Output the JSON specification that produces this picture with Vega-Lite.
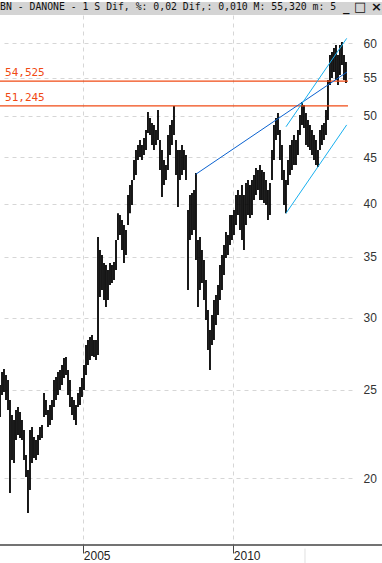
{
  "$schema": "https://vega.github.io/schema/vega-lite/v6.json",
  "width": 352,
  "height": 530,
  "autosize": {"type": "none"},
  "padding": {"left": 0, "top": 15, "right": 30, "bottom": 18},
  "background": "white",
  "title": {"text": "BN - DANONE -  1 S Dif, %: 0,02 Dif,: 0,010 M: 55,320 m: 5", "anchor": "start", "frame": "group", "font": "DejaVu Sans Mono", "fontSize": 9.8, "fontWeight": "normal", "color": "#111", "offset": 0, "dy": 11},
  "config": {"view": {"stroke": null}},
  "datasets": {
    "bars": [
      {"t":2002.223,"hi":25.32,"lo":23.35},{"t":2002.290,"hi":26.16,"lo":24.68},{"t":2002.356,"hi":26.36,"lo":24.87},{"t":2002.423,"hi":25.96,"lo":24.37},{"t":2002.490,"hi":25.64,"lo":23.77},{"t":2002.556,"hi":24.37,"lo":19.27},{"t":2002.623,"hi":23.47,"lo":20.95},{"t":2002.690,"hi":23.17,"lo":20.79},{"t":2002.756,"hi":23.77,"lo":22.03},{"t":2002.823,"hi":23.95,"lo":22.31},{"t":2002.890,"hi":23.65,"lo":22.14},{"t":2002.956,"hi":23.17,"lo":22.03},{"t":2003.023,"hi":22.60,"lo":20.95},{"t":2003.090,"hi":21.21,"lo":20.07},{"t":2003.156,"hi":20.42,"lo":18.32},
      {"t":2003.223,"hi":22.60,"lo":19.42},{"t":2003.290,"hi":22.77,"lo":20.79},{"t":2003.356,"hi":22.20,"lo":21.05},{"t":2003.423,"hi":22.03,"lo":20.95},{"t":2003.490,"hi":22.31,"lo":21.21},{"t":2003.556,"hi":22.77,"lo":22.03},{"t":2003.623,"hi":22.88,"lo":22.14},{"t":2003.690,"hi":24.81,"lo":23.35},{"t":2003.756,"hi":24.37,"lo":23.47},{"t":2003.823,"hi":23.77,"lo":22.77},{"t":2003.890,"hi":24.07,"lo":22.88},{"t":2003.956,"hi":24.37,"lo":23.17},{"t":2004.023,"hi":25.64,"lo":23.95},{"t":2004.090,"hi":25.83,"lo":24.37},{"t":2004.156,"hi":26.16,"lo":24.68},
      {"t":2004.223,"hi":26.29,"lo":25.00},{"t":2004.290,"hi":26.63,"lo":25.32},{"t":2004.356,"hi":27.10,"lo":25.77},{"t":2004.423,"hi":27.17,"lo":25.96},{"t":2004.490,"hi":26.29,"lo":24.68},{"t":2004.556,"hi":25.64,"lo":23.95},{"t":2004.623,"hi":24.56,"lo":23.47},{"t":2004.690,"hi":24.37,"lo":23.17},{"t":2004.756,"hi":24.07,"lo":22.88},{"t":2004.823,"hi":24.81,"lo":23.95},{"t":2004.890,"hi":25.19,"lo":24.07},{"t":2004.956,"hi":25.77,"lo":24.56},{"t":2005.023,"hi":26.63,"lo":25.00},{"t":2005.090,"hi":28.01,"lo":25.96},{"t":2005.156,"hi":28.36,"lo":26.63},
      {"t":2005.223,"hi":28.58,"lo":26.96},{"t":2005.290,"hi":28.72,"lo":27.24},{"t":2005.356,"hi":28.36,"lo":27.17},{"t":2005.423,"hi":28.36,"lo":26.96},{"t":2005.490,"hi":36.78,"lo":27.31},{"t":2005.556,"hi":35.60,"lo":31.61},{"t":2005.623,"hi":35.15,"lo":32.18},{"t":2005.690,"hi":34.45,"lo":31.38},{"t":2005.756,"hi":34.28,"lo":30.83},{"t":2005.823,"hi":33.85,"lo":31.38},{"t":2005.890,"hi":34.45,"lo":32.59},{"t":2005.956,"hi":34.28,"lo":32.75},{"t":2006.023,"hi":34.54,"lo":33.00},{"t":2006.090,"hi":36.51,"lo":33.85},{"t":2006.156,"hi":39.07,"lo":36.51},
      {"t":2006.223,"hi":38.89,"lo":36.97},{"t":2006.290,"hi":38.40,"lo":35.60},{"t":2006.356,"hi":37.92,"lo":34.45},{"t":2006.423,"hi":37.44,"lo":35.15},{"t":2006.490,"hi":40.90,"lo":37.92},{"t":2006.556,"hi":41.95,"lo":39.07},{"t":2006.623,"hi":42.48,"lo":39.88},{"t":2006.690,"hi":44.68,"lo":42.48},{"t":2006.756,"hi":45.83,"lo":43.02},{"t":2006.823,"hi":46.41,"lo":44.68},{"t":2006.890,"hi":47.00,"lo":45.02},{"t":2006.956,"hi":46.41,"lo":44.68},{"t":2007.023,"hi":47.24,"lo":45.25},{"t":2007.090,"hi":48.20,"lo":45.83},{"t":2007.156,"hi":50.44,"lo":47.84},
      {"t":2007.223,"hi":49.68,"lo":47.60},{"t":2007.290,"hi":49.06,"lo":46.41},{"t":2007.356,"hi":48.81,"lo":45.83},{"t":2007.423,"hi":48.20,"lo":46.41},{"t":2007.490,"hi":50.70,"lo":47.00},{"t":2007.556,"hi":47.00,"lo":43.57},{"t":2007.623,"hi":45.83,"lo":40.70},{"t":2007.690,"hi":44.68,"lo":41.95},{"t":2007.756,"hi":44.12,"lo":42.48},{"t":2007.823,"hi":47.60,"lo":43.57},{"t":2007.890,"hi":48.81,"lo":45.25},{"t":2007.956,"hi":49.43,"lo":46.41},{"t":2008.023,"hi":51.21,"lo":47.60},{"t":2008.090,"hi":47.00,"lo":43.02},{"t":2008.156,"hi":45.83,"lo":39.68},
      {"t":2008.223,"hi":45.83,"lo":42.48},{"t":2008.290,"hi":46.41,"lo":43.02},{"t":2008.356,"hi":45.83,"lo":43.57},{"t":2008.423,"hi":45.25,"lo":42.48},{"t":2008.490,"hi":39.38,"lo":32.18},{"t":2008.556,"hi":40.90,"lo":36.51},{"t":2008.623,"hi":41.11,"lo":36.97},{"t":2008.690,"hi":41.42,"lo":37.44},{"t":2008.756,"hi":43.24,"lo":34.71},{"t":2008.823,"hi":36.51,"lo":30.83},{"t":2008.890,"hi":36.78,"lo":32.18},{"t":2008.956,"hi":35.60,"lo":32.75},{"t":2009.023,"hi":34.71,"lo":31.38},{"t":2009.090,"hi":33.00,"lo":29.83},{"t":2009.156,"hi":30.59,"lo":27.65},
      {"t":2009.223,"hi":29.09,"lo":26.29},{"t":2009.290,"hi":30.21,"lo":28.01},{"t":2009.356,"hi":31.38,"lo":28.36},{"t":2009.423,"hi":31.77,"lo":29.46},{"t":2009.490,"hi":32.59,"lo":30.21},{"t":2009.556,"hi":34.28,"lo":31.38},{"t":2009.623,"hi":35.15,"lo":32.18},{"t":2009.690,"hi":36.05,"lo":33.42},{"t":2009.756,"hi":37.25,"lo":34.89},{"t":2009.823,"hi":36.97,"lo":35.15},{"t":2009.890,"hi":38.89,"lo":36.05},{"t":2009.956,"hi":38.89,"lo":36.51},{"t":2010.023,"hi":39.38,"lo":36.97},{"t":2010.090,"hi":40.90,"lo":37.92},{"t":2010.156,"hi":41.42,"lo":38.89},
      {"t":2010.223,"hi":40.90,"lo":37.44},{"t":2010.290,"hi":41.95,"lo":36.51},{"t":2010.356,"hi":40.90,"lo":35.60},{"t":2010.423,"hi":42.16,"lo":37.92},{"t":2010.490,"hi":42.48,"lo":38.89},{"t":2010.556,"hi":41.95,"lo":38.59},{"t":2010.623,"hi":42.48,"lo":38.89},{"t":2010.690,"hi":43.02,"lo":40.39},{"t":2010.756,"hi":43.79,"lo":40.90},{"t":2010.823,"hi":43.57,"lo":41.42},{"t":2010.890,"hi":44.12,"lo":40.39},{"t":2010.956,"hi":43.57,"lo":40.39},{"t":2011.023,"hi":43.35,"lo":40.08},{"t":2011.090,"hi":42.48,"lo":39.88},{"t":2011.156,"hi":41.42,"lo":38.40},
      {"t":2011.223,"hi":42.16,"lo":38.89},{"t":2011.290,"hi":45.83,"lo":42.48},{"t":2011.356,"hi":48.81,"lo":44.68},{"t":2011.423,"hi":49.68,"lo":47.00},{"t":2011.490,"hi":50.31,"lo":47.60},{"t":2011.556,"hi":48.20,"lo":44.68},{"t":2011.623,"hi":46.41,"lo":42.48},{"t":2011.690,"hi":43.57,"lo":39.88},{"t":2011.756,"hi":42.48,"lo":39.07},{"t":2011.823,"hi":44.68,"lo":41.95},{"t":2011.890,"hi":46.41,"lo":43.02},{"t":2011.956,"hi":47.00,"lo":43.57},{"t":2012.023,"hi":47.60,"lo":44.12},{"t":2012.090,"hi":47.00,"lo":44.12},{"t":2012.156,"hi":48.20,"lo":45.25},
      {"t":2012.223,"hi":50.06,"lo":47.60},{"t":2012.290,"hi":51.73,"lo":48.81},{"t":2012.356,"hi":51.34,"lo":48.44},{"t":2012.423,"hi":50.31,"lo":46.41},{"t":2012.490,"hi":49.43,"lo":46.18},{"t":2012.556,"hi":48.81,"lo":45.83},{"t":2012.623,"hi":48.20,"lo":45.25},{"t":2012.690,"hi":47.60,"lo":44.68},{"t":2012.756,"hi":47.00,"lo":44.12},{"t":2012.823,"hi":45.83,"lo":43.90},{"t":2012.890,"hi":48.20,"lo":45.83},{"t":2012.956,"hi":48.81,"lo":46.41},{"t":2013.023,"hi":49.06,"lo":47.00},{"t":2013.090,"hi":50.70,"lo":47.60},{"t":2013.156,"hi":54.69,"lo":49.43},
      {"t":2013.223,"hi":58.25,"lo":54.00},{"t":2013.290,"hi":58.69,"lo":54.97},{"t":2013.356,"hi":59.29,"lo":55.80},{"t":2013.423,"hi":59.74,"lo":54.69},{"t":2013.490,"hi":58.25,"lo":54.00},{"t":2013.556,"hi":59.74,"lo":55.38},{"t":2013.623,"hi":60.20,"lo":56.80},{"t":2013.690,"hi":58.25,"lo":54.69},{"t":2013.756,"hi":57.23,"lo":54.27}
    ],
    "levels": [
      {"level": 54.525, "label": "54,525"},
      {"level": 51.245, "label": "51,245"}
    ],
    "trends": [
      {"line": "a", "kind": "dark", "t": 2008.746, "p": 43.1},
      {"line": "a", "kind": "dark", "t": 2013.79, "p": 55.8},
      {"line": "b", "kind": "light", "t": 2011.757, "p": 48.6},
      {"line": "b", "kind": "light", "t": 2013.78, "p": 60.76},
      {"line": "c", "kind": "light", "t": 2011.757, "p": 39.06},
      {"line": "c", "kind": "light", "t": 2013.78, "p": 48.83}
    ],
    "buttons": [
      {"icon": "_ □ ×"}
    ]
  },
  "layer": [
    {
      "data": {"values": [{}]},
      "mark": {"type": "rect", "color": "#d4d4d4"},
      "encoding": {
        "x": {"datum": 2002.223, "type": "quantitative", "title": null},
        "x2": {"datum": 2014.96},
        "y": {"datum": 64.45, "type": "quantitative", "title": null},
        "y2": {"datum": 66.6}
      }
    },
    {
      "data": {"name": "bars"},
      "mark": {"type": "rule", "color": "#000000", "strokeWidth": 1.8},
      "encoding": {
        "x": {"field": "t", "type": "quantitative", "title": null,
              "scale": {"domain": [2002.223, 2013.957], "nice": false, "zero": false},
              "axis": {"orient": "bottom", "values": [2005, 2010], "format": "d", "grid": true, "gridDash": [4, 4], "gridColor": "#d6d6d6", "domain": false, "ticks": true, "tickSize": 8, "tickColor": "#444444", "labelAlign": "left", "labelBaseline": "top", "labelPadding": -3, "labelDx": 2, "labelFont": "Liberation Sans", "labelFontSize": 12, "labelColor": "#222222"}},
        "y": {"field": "hi", "type": "quantitative", "title": null,
              "scale": {"type": "log", "domain": [16.9, 64.45], "nice": false},
              "axis": {"orient": "right", "values": [20, 25, 30, 35, 40, 45, 50, 55, 60], "format": "d", "grid": true, "gridDash": [4, 4], "gridColor": "#d6d6d6", "domain": false, "ticks": false, "labelPadding": 11, "labelFont": "Liberation Sans", "labelFontSize": 12, "labelColor": "#333333"}},
        "y2": {"field": "lo"}
      }
    },
    {
      "data": {"name": "levels"},
      "mark": {"type": "rule", "color": "#f04a14", "strokeWidth": 1.3},
      "encoding": {
        "x": {"datum": 2002.223, "type": "quantitative", "title": null},
        "x2": {"datum": 2013.823},
        "y": {"field": "level", "type": "quantitative", "title": null}
      }
    },
    {
      "data": {"name": "levels"},
      "mark": {"type": "text", "color": "#f04a14", "align": "left", "baseline": "bottom", "dy": -3, "font": "DejaVu Sans Mono", "fontSize": 11},
      "encoding": {
        "x": {"datum": 2002.39, "type": "quantitative", "title": null},
        "y": {"field": "level", "type": "quantitative", "title": null},
        "text": {"field": "label"}
      }
    },
    {
      "data": {"name": "trends"},
      "mark": {"type": "line", "strokeWidth": 1},
      "encoding": {
        "x": {"field": "t", "type": "quantitative", "title": null},
        "y": {"field": "p", "type": "quantitative", "title": null},
        "detail": {"field": "line"},
        "color": {"field": "kind", "type": "nominal", "legend": null, "scale": {"domain": ["dark", "light"], "range": ["#0a62d0", "#18b0f0"]}}
      }
    },
    {
      "data": {"values": [{}]},
      "mark": {"type": "rule", "color": "#444444", "strokeWidth": 1.5},
      "encoding": {
        "x": {"datum": 2002.223, "type": "quantitative", "title": null},
        "x2": {"datum": 2014.96},
        "y": {"datum": 16.9, "type": "quantitative", "title": null}
      }
    },
    {
      "data": {"values": [{}]},
      "mark": {"type": "rule", "color": "#e0e0e0", "strokeWidth": 1},
      "encoding": {
        "x": {"datum": 2012.39, "type": "quantitative", "title": null},
        "y": {"datum": 16.75, "type": "quantitative", "title": null},
        "y2": {"datum": 16.15}
      }
    },
    {
      "data": {"name": "buttons"},
      "mark": {"type": "text", "color": "#111111", "align": "left", "baseline": "top", "dy": -1, "font": "DejaVu Sans", "fontSize": 13, "fontWeight": "bold"},
      "encoding": {
        "x": {"datum": 2013.66, "type": "quantitative", "title": null},
        "y": {"datum": 66.6, "type": "quantitative", "title": null},
        "text": {"field": "icon"}
      }
    }
  ]
}
